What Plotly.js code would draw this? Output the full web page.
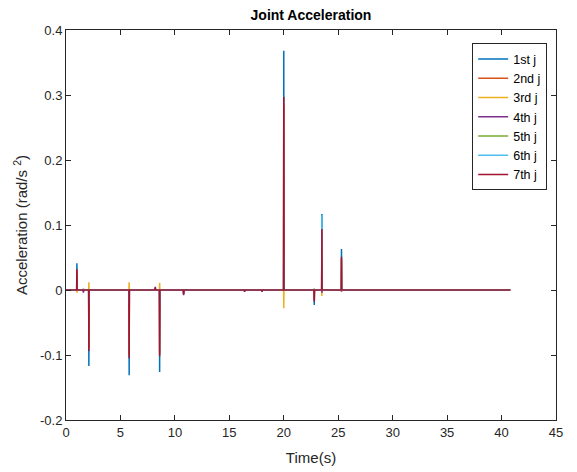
<!DOCTYPE html>
<html>
<head>
<meta charset="utf-8">
<script src="https://cdn.plot.ly/plotly-3.0.1.min.js"></script>
<style>html,body{margin:0;padding:0;background:#fff;}#chart{width:577px;height:472px;}</style>
</head>
<body>
<div id="chart"></div>
<script>
// Time samples (s)
const time = [0,
  0.98, 1.0, 1.02,
  1.58, 1.6, 1.62,
  2.08, 2.1, 2.12,
  5.78, 5.8, 5.82,
  8.18, 8.2, 8.22,
  8.58, 8.6, 8.62,
  10.78, 10.8, 10.82,
  16.38, 16.4, 16.42,
  17.98, 18.0, 18.02,
  19.98, 20.0, 20.02,
  22.78, 22.8, 22.82,
  23.48, 23.5, 23.52,
  25.28, 25.3, 25.32,
  40.8];

const seriesNames = ['1st j', '2nd j', '3rd j', '4th j', '5th j', '6th j', '7th j'];
const seriesColors = ['#0072BD', '#D95319', '#EDB120', '#7E2F8E', '#77AC30', '#4DBEEE', '#A2142F'];

const joint1 = [0, 0,0.041,0, 0,-0.002,0, 0,-0.117,0, 0,-0.131,0, 0,0.003,0, 0,-0.126,0, 0,-0.006,0, 0,-0.002,0, 0,-0.002,0, 0,0.368,0, 0,-0.023,0, 0,0.117,0, 0,0.063,0, 0];
const joint2 = [0, 0,0.030,0, 0,0.001,0, 0,-0.090,0, 0,-0.100,0, 0,0.002,0, 0,-0.098,0, 0,-0.004,0, 0,-0.001,0, 0,-0.001,0, 0,0.285,0, 0,-0.016,0, 0,0.090,0, 0,0.048,0, 0];
const joint3 = [0, 0,-0.004,0, 0,0.002,0, 0,0.012,0, 0,0.012,0, 0,0.001,0, 0,0.011,0, 0,0.001,0, 0,0.001,0, 0,0.001,0, 0,-0.028,0, 0,0.002,0, 0,-0.009,0, 0,-0.003,0, 0];
const joint4 = [0, 0,0.002,0, 0,-0.004,0, 0,-0.003,0, 0,-0.003,0, 0,0.005,0, 0,-0.003,0, 0,-0.008,0, 0,-0.003,0, 0,-0.003,0, 0,0.004,0, 0,-0.002,0, 0,-0.004,0, 0,-0.002,0, 0];
const joint5 = [0, 0,0.001,0, 0,0.001,0, 0,-0.001,0, 0,-0.001,0, 0,0.001,0, 0,-0.001,0, 0,0.001,0, 0,0.001,0, 0,0.001,0, 0,0.002,0, 0,0.001,0, 0,0.001,0, 0,0.001,0, 0];
const joint6 = [0, 0,0.004,0, 0,0.002,0, 0,-0.020,0, 0,-0.020,0, 0,0.001,0, 0,-0.020,0, 0,0.001,0, 0,0.001,0, 0,0.001,0, 0,0.050,0, 0,0.002,0, 0,0.115,0, 0,0.010,0, 0];
const joint7 = [0, 0,0.032,0, 0,-0.002,0, 0,-0.094,0, 0,-0.105,0, 0,0.004,0, 0,-0.102,0, 0,-0.007,0, 0,-0.002,0, 0,-0.002,0, 0,0.297,0, 0,-0.018,0, 0,0.094,0, 0,0.051,0, 0];

const allJoints = [joint1, joint2, joint3, joint4, joint5, joint6, joint7];

const yTickVals = [-0.2, -0.1, 0, 0.1, 0.2, 0.3, 0.4];
const yTickText = ['-0.2', '-0.1', '0', '0.1', '0.2', '0.3', '0.4'];
const xTickVals = [0, 5, 10, 15, 20, 25, 30, 35, 40, 45];

const traces = allJoints.map((vals, i) => ({
  x: time, y: vals, type: 'scatter', mode: 'lines',
  name: seriesNames[i],
  line: {color: seriesColors[i], width: 1.5}
}));

const axisCommon = {
  showline: true, linecolor: '#262626', linewidth: 1,
  mirror: 'ticks', ticks: 'inside', ticklen: 5, tickcolor: '#262626',
  showgrid: false, zeroline: false,
  tickfont: {family: 'Liberation Sans, Arial, sans-serif', size: 13, color: '#262626'}
};

const layout = {
  width: 577, height: 472,
  margin: {l: 66, r: 21, t: 30, b: 52},
  paper_bgcolor: '#ffffff', plot_bgcolor: '#ffffff',
  font: {family: 'Liberation Sans, Arial, sans-serif', color: '#262626'},
  title: {text: '<b>Joint Acceleration</b>', font: {size: 14, color: '#000'}, x: 0.539, xanchor: 'center', y: 0.969, yanchor: 'middle'},
  xaxis: Object.assign({}, axisCommon, {
    range: [0, 45], tickvals: xTickVals,
    title: {text: 'Time(s)', font: {size: 15, color: '#262626'}, standoff: 13}
  }),
  yaxis: Object.assign({}, axisCommon, {
    range: [-0.2, 0.4], tickvals: yTickVals, ticktext: yTickText,
    title: {text: 'Acceleration (rad/s <sup>2</sup>)', font: {size: 15, color: '#262626'}, standoff: 8}
  }),
  showlegend: true,
  legend: {
    x: 0.982, xanchor: 'right', y: 0.966, yanchor: 'top',
    bgcolor: '#ffffff', bordercolor: '#262626', borderwidth: 1,
    font: {size: 12.5, color: '#000'}, tracegroupgap: 0, itemwidth: 30
  }
};

Plotly.newPlot('chart', traces, layout, {displayModeBar: false, staticPlot: true});
</script>
</body>
</html>
